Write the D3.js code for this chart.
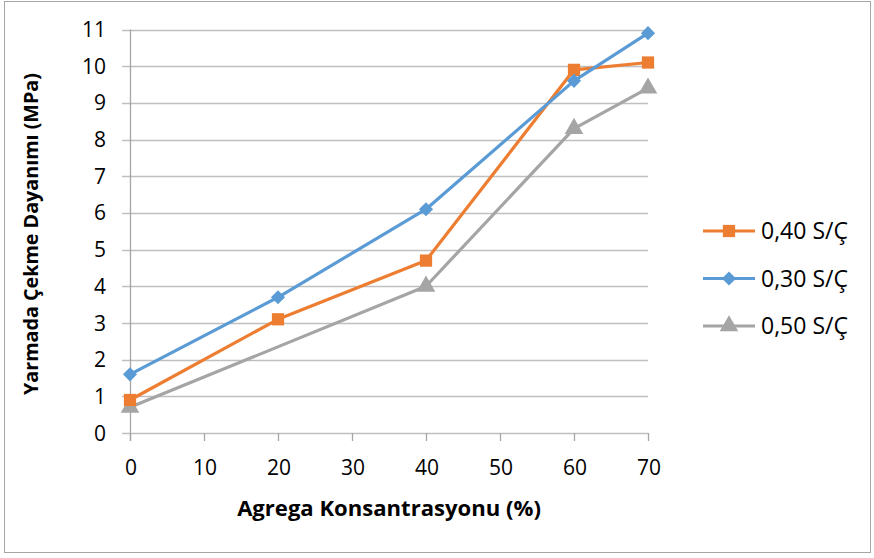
<!DOCTYPE html>
<html><head><meta charset="utf-8">
<script src="https://cdn.jsdelivr.net/npm/d3@7"></script>
<style>body{margin:0;background:#fff}svg{display:block}</style>
</head><body>
<svg id="c" width="874" height="558"></svg>
<script>
const xTicks = [0,10,20,30,40,50,60,70];
const yTicks = [0,1,2,3,4,5,6,7,8,9,10,11];
const s40x = [0,20,40,60,70];
const s40y = [0.9,3.1,4.7,9.9,10.1];
const s30x = [0,20,40,60,70];
const s30y = [1.6,3.7,6.1,9.6,10.9];
const s50x = [0,40,60,70];
const s50y = [0.7,4.0,8.3,9.4];
const names = ["0,40 S/Ç","0,30 S/Ç","0,50 S/Ç"];
const colors = ["#ED7D31","#5B9BD5","#A5A5A5"];

const svg = d3.select("#c");
const font = "'Open Sans', sans-serif";
svg.append("rect").attr("x",4.5).attr("y",1.5).attr("width",866).attr("height",551)
  .attr("fill","#fff").attr("stroke","#A6A6A6").attr("stroke-width",1);

const x = d3.scaleLinear().domain([0,70]).range([130,648]);
const y = d3.scaleLinear().domain([0,11]).range([433,29.5]);

function fit(sel, w){
  let fs = +sel.attr("font-size");
  const l = sel.node().getComputedTextLength();
  if (l>0) sel.attr("font-size", fs*w/l);
}

svg.append("g").selectAll("line").data(yTicks).join("line")
  .attr("x1",122).attr("x2",648).attr("y1",d=>Math.round(y(d))+0.5).attr("y2",d=>Math.round(y(d))+0.5)
  .attr("stroke","#BFBFBF").attr("stroke-width",1.3);
svg.append("line").attr("x1",130.5).attr("x2",130.5).attr("y1",y(11)).attr("y2",y(0)+8)
  .attr("stroke","#A6A6A6").attr("stroke-width",1.3);
svg.append("g").selectAll("line").data(xTicks).join("line")
  .attr("x1",d=>Math.round(x(d))+0.5).attr("x2",d=>Math.round(x(d))+0.5).attr("y1",y(0)).attr("y2",y(0)+8)
  .attr("stroke","#A6A6A6").attr("stroke-width",1.3);
svg.append("g").selectAll("text").data(yTicks).join("text")
  .attr("x",106).attr("y",d=>y(d)).attr("dy","0.36em").attr("text-anchor","end")
  .attr("font-family",font).attr("font-size",21).attr("fill","#000").text(d=>d);
svg.append("g").selectAll("text").data(xTicks).join("text")
  .attr("x",d=>x(d)+1).attr("y",467).attr("dy","0.36em").attr("text-anchor","middle")
  .attr("font-family",font).attr("font-size",21).attr("fill","#000").text(d=>d);

const xt = svg.append("text").attr("x",389).attr("y",508).attr("dy","0.36em").attr("text-anchor","middle")
  .attr("font-family",font).attr("font-weight","bold").attr("font-size",18).text("Agrega Konsantrasyonu (%)");
fit(xt, 304);
const yt = svg.append("text").attr("transform","translate(31,234) rotate(-90)").attr("dy","0.36em").attr("text-anchor","middle")
  .attr("font-family",font).attr("font-weight","bold").attr("font-size",18).text("Yarmada Çekme Dayanımı (MPa)");
fit(yt, 322);

const series = [
  {xs:s40x, ys:s40y},
  {xs:s30x, ys:s30y},
  {xs:s50x, ys:s50y}
];
const sq = d3.symbol().type(d3.symbolSquare).size(150)();
const dm = d3.symbol().type(d3.symbolSquare).size(100)();
const tri = d3.symbol().type(d3.symbolTriangle).size(150)();
const shapes = [sq, dm, tri];
const rot = [0, 45, 0];
const line = d3.line().x(d=>x(d[0])).y(d=>y(d[1]));
const order = [2,0,1];
order.forEach(i=>{
  const pts = series[i].xs.map((v,j)=>[v, series[i].ys[j]]);
  svg.append("path").datum(pts).attr("d",line).attr("fill","none")
    .attr("stroke",colors[i]).attr("stroke-width",3.2).attr("stroke-linejoin","round");
  svg.append("g").selectAll("path").data(pts).join("path")
    .attr("transform",d=>`translate(${x(d[0])},${y(d[1])}) rotate(${rot[i]})`)
    .attr("d",shapes[i]).attr("fill",colors[i]);
});

const lg = svg.append("g");
names.forEach((n,i)=>{
  const yy = 231 + i*47.5;
  lg.append("line").attr("x1",703).attr("x2",755).attr("y1",yy).attr("y2",yy)
    .attr("stroke",colors[i]).attr("stroke-width",3.2);
  lg.append("path").attr("transform",`translate(729,${yy}) rotate(${rot[i]})`)
    .attr("d",shapes[i]).attr("fill",colors[i]);
  const t = lg.append("text").attr("x",761).attr("y",yy).attr("dy","0.36em")
    .attr("font-family",font).attr("font-size",18).text(n);
  fit(t, 87);
});
</script>
</body></html>
